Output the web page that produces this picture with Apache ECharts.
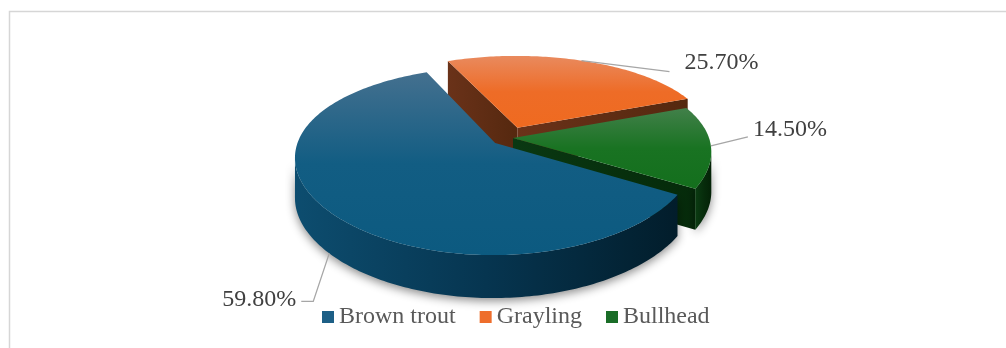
<!DOCTYPE html>
<html><head><meta charset="utf-8">
<script src="https://cdn.jsdelivr.net/npm/echarts@6/dist/echarts.min.js"></script>
<style>html,body{margin:0;padding:0;background:#fff}#c{width:1006px;height:348px}</style>
</head><body><div id="c"></div>
<script>
// ---- data ----
const categories = ['Brown trout', 'Grayling', 'Bullhead'];
const values = [59.8, 25.7, 14.5];

// ---- styles / geometry ----
const legendColors = ['#1d5f86', '#ee6e2c', '#1a6d27'];
const topColors = [
  ['#44708f', '#125d83', '#0c5a80'],
  ['#e98a5e', '#ee6c27', '#ef6a20'],
  ['#42804a', '#197322', '#146f1d']
];
const wallColors = [
  ['#0d4d6f', '#063550', '#021d2b'],
  ['#6e3519', '#5c2b12', '#4f240e'],
  ['#0b3c12', '#072d0c', '#042207']
];
const radialColors = [['#0a3550', '#062a40'], ['#6a3219', '#55280f'], ['#0a3812', '#052a0a']];
const G = { cx: 508, cy: 137.9, r: 196, depth: 39.4, sa: 0.453, px: 0.00075, py: 0.00096, pz: 0.0004, start: 121 };
const explode = [17, 25, 5];
// label layout: anchorZ (fraction of depth), line points (offsets from anchor), text offset, align
const labelLayout = [
  { z: -1, line: [[-16, 48], [-28, 48]], text: [-33, 46], align: 'right' },
  { z: 0, line: [[88, 11]], text: [103, 2.5], align: 'left' },
  { z: 0, line: [[37, -9]], text: [42, -16], align: 'left' }
];

const total = values.reduce((a, b) => a + b, 0);
const slices = [];
let acc = G.start;
values.forEach(v => { const a1 = acc + v / total * 360; slices.push([acc, a1]); acc = a1; });
const rad = d => d * Math.PI / 180;
function proj(X, Y, Z) {
  const kx = 1 / (1 + G.px * Y), ky = 1 / (1 + G.py * Y), kz = 1 / (1 + G.pz * Y);
  return [G.cx + X * kx, G.cy - Y * G.sa * ky - Z * G.depth * kz];
}
const camY = -1 / G.px;
function facing(P, n) {
  return (0 - P[0]) * n[0] + (camY - P[1]) * n[1] > 0;
}
const lg = (x0, y0, x1, y1, cols) => new echarts.graphic.LinearGradient(x0, y0, x1, y1,
  cols.map((c, i) => ({ offset: i / (cols.length - 1), color: c })));

function renderItem(params, api) {
  const i = params.seriesIndex;
  const [a0, a1] = slices[i];
  const mid = rad((a0 + a1) / 2);
  const e = explode[i];
  const ox = e * Math.sin(mid), oy = e * Math.cos(mid);
  const W = (t, rr, Z) => [ox + rr * Math.sin(t), oy + rr * Math.cos(t), Z];
  const P = (t, rr, Z) => { const w = W(t, rr, Z); return proj(w[0], w[1], w[2]); };
  const r = G.r;
  const children = [];
  const N = Math.max(8, Math.ceil(a1 - a0));
  const ts = [];
  for (let k = 0; k <= N; k++) ts.push(rad(a0 + (a1 - a0) * k / N));
  // outer wall (front-facing runs only)
  let run = [];
  const runs = [];
  ts.forEach(t => {
    const ok = facing(W(t, r, -0.5), [Math.sin(t), Math.cos(t)]);
    if (ok) run.push(t); else { if (run.length > 1) runs.push(run); run = []; }
  });
  if (run.length > 1) runs.push(run);
  runs.forEach(rn => {
    const pts = rn.map(t => P(t, r, 0)).concat(rn.slice().reverse().map(t => P(t, r, -1)));
    const ym = rn.reduce((s, t) => s + W(t, r, 0)[1], 0) / rn.length;
    children.push({ type: 'polygon', z2: 500 - ym, shape: { points: pts },
      style: { fill: lg(0, 0, 1, 0, wallColors[i]), shadowBlur: 10, shadowColor: 'rgba(0,0,0,0.45)', shadowOffsetY: 3 } });
  });
  // radial walls
  [[rad(a0), -1], [rad(a1), 1]].forEach(([t, sgn]) => {
    const n = [sgn * Math.cos(t), -sgn * Math.sin(t)];
    const Pm = W(t, r / 2, -0.5);
    if (!facing(Pm, n)) return;
    const pts = [P(t, 0, 0), P(t, r, 0), P(t, r, -1), P(t, 0, -1)];
    children.push({ type: 'polygon', z2: 500 - Pm[1], shape: { points: pts },
      style: { fill: lg(0, 0, 1, 0, radialColors[i]) } });
  });
  // top face
  const topPts = [P(0, 0, 0)].concat(ts.map(t => P(t, r, 0)));
  children.push({ type: 'polygon', z2: 1000, shape: { points: topPts },
    style: { fill: lg(0, 0, 0, 1, topColors[i]) } });
  // label
  const lay = labelLayout[i];
  const an = P(mid, r, lay.z);
  const linePts = [an].concat(lay.line.map(o => [an[0] + o[0], an[1] + o[1]]));
  children.push({ type: 'polyline', z2: 1500, shape: { points: linePts },
    style: { stroke: '#a6a6a6', lineWidth: 1.3, fill: null } });
  children.push({ type: 'text', z2: 1600, style: {
    text: values[i].toFixed(2) + '%', x: an[0] + lay.text[0], y: an[1] + lay.text[1],
    textAlign: lay.align, textVerticalAlign: 'middle', fill: '#404040',
    font: '24px "Liberation Serif"' } });
  return { type: 'group', children };
}

const chart = echarts.init(document.getElementById('c'), null, { renderer: 'canvas' });
chart.setOption({
  animation: false,
  graphic: [{ type: 'rect', shape: { x: 9.5, y: 11.5, width: 1200, height: 500 },
    style: { fill: null, stroke: '#d6d6d6', lineWidth: 1.5 }, silent: true }],
  legend: {
    data: categories, left: 322, top: 305, padding: 0, itemWidth: 12, itemHeight: 12, itemGap: 24, icon: 'rect',
    textStyle: { fontFamily: 'Liberation Serif', fontSize: 24, color: '#595959' }
  },
  series: categories.map((name, i) => ({
    type: 'custom', name, coordinateSystem: 'none', renderItem,
    itemStyle: { color: legendColors[i] }, data: [values[i]]
  }))
});
</script></body></html>
